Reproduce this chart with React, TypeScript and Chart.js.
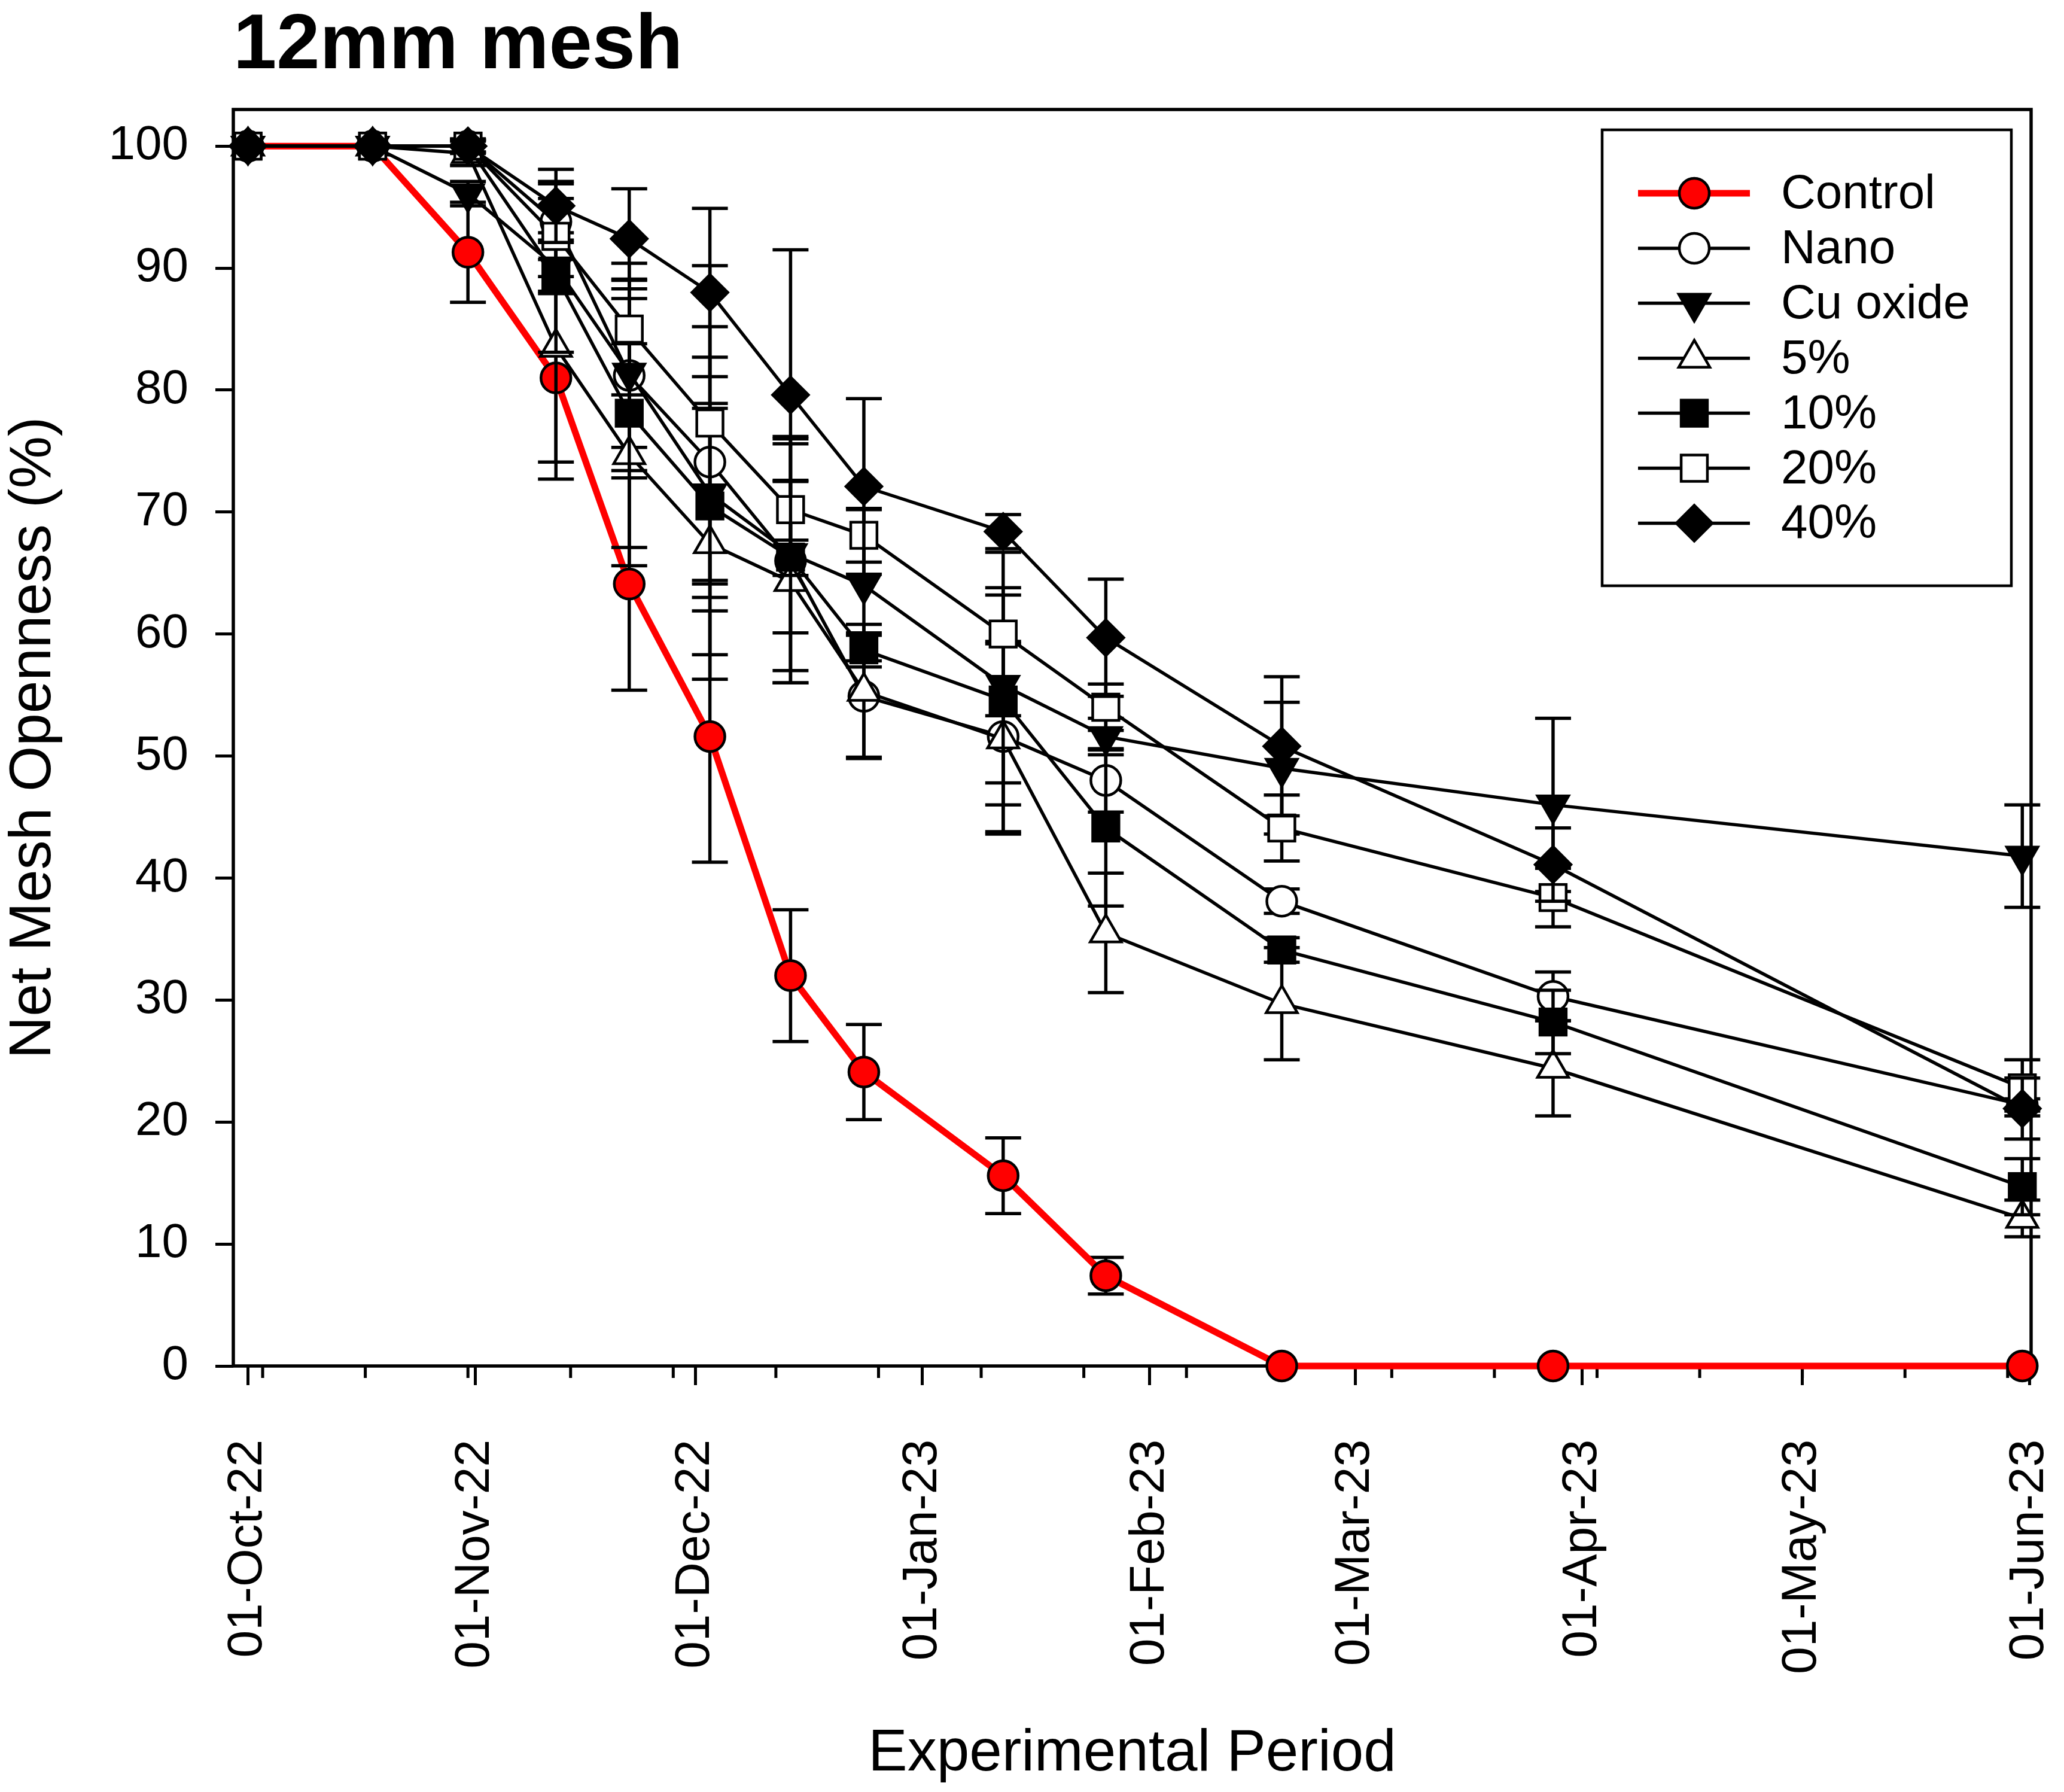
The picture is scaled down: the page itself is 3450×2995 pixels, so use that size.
import React, { useEffect, useRef } from 'react';
import { Chart, registerables } from 'chart.js';
import { drawPoint } from 'chart.js/helpers';

Chart.register(...registerables);

const FONT = '"Liberation Sans", Arial, Helvetica, sans-serif';

// sampling dates as days after 01-Oct-22
const sampleDays = [0, 17, 30, 42, 52, 63, 74, 84, 103, 117, 141, 178, 242];

// net mesh openness (%) per treatment
const controlValues = [100, 100, 91.3, 81.0, 64.1, 51.6, 32.0, 24.1, 15.6, 7.4, 0, 0, 0];
const nanoValues = [100, 100, 100, 93.8, 81.2, 74.1, 66.0, 54.9, 51.6, 48.0, 38.1, 30.3, 21.4];
const cuOxideValues = [100, 100, 96.1, 90.1, 81.4, 71.5, 66.6, 64.0, 55.8, 51.6, 49.0, 46.0, 41.8];
const pct5Values = [100, 100, 99.4, 83.5, 74.7, 67.4, 64.3, 55.3, 51.4, 35.5, 29.7, 24.4, 12.1];
const pct10Values = [100, 100, 100, 89.4, 78.1, 70.5, 66.3, 58.7, 54.6, 44.1, 34.1, 28.2, 14.7];
const pct20Values = [100, 100, 100, 92.6, 85.0, 77.3, 70.2, 68.1, 60.0, 54.0, 44.1, 38.4, 22.8];
const pct40Values = [100, 100, 100, 95.1, 92.4, 88.0, 79.6, 72.1, 68.4, 59.7, 50.8, 41.1, 21.1];

// error bar half-lengths
const controlErr = [0, 0, 4.1, 8.3, 8.7, 10.3, 5.4, 3.9, 3.1, 1.5, 0, 0, 0];
const nanoErr = [0, 0, 0.5, 3.1, 7.8, 11.1, 10.0, 5.0, 7.8, 2.6, 1.0, 2.0, 0.5];
const cuOxideErr = [0, 0, 1.0, 2.2, 6.1, 7.4, 9.6, 6.2, 8.0, 1.5, 5.4, 7.1, 4.2];
const pct5Err = [0, 0, 1.0, 9.4, 9.1, 11.1, 8.3, 5.5, 7.8, 4.9, 4.6, 3.9, 1.5];
const pct10Err = [0, 0, 0.6, 6.3, 11.0, 12.2, 6.2, 1.4, 8.6, 6.4, 1.0, 2.6, 2.3];
const pct20Err = [0, 0, 0.5, 4.5, 5.4, 12.9, 5.4, 2.2, 6.7, 1.9, 2.7, 2.4, 2.3];
const pct40Err = [0, 0, 0.5, 3.0, 4.1, 6.9, 11.9, 7.2, 1.4, 4.8, 5.7, 3.0, 2.5];

// x axis ticks
const monthTickDays = [0, 31, 61, 92, 123, 151, 182, 212, 243];
const monthTickLabels = [
  '01-Oct-22', '01-Nov-22', '01-Dec-22', '01-Jan-23', '01-Feb-23',
  '01-Mar-23', '01-Apr-23', '01-May-23', '01-Jun-23',
];
const minorTickDays = [2, 16, 30, 44, 58, 72, 86, 100, 114, 128, 142, 156, 170, 184, 198, 212, 226, 240];
const yTickValues = [0, 10, 20, 30, 40, 50, 60, 70, 80, 90, 100];

const series = [
  { label: 'Control', values: controlValues, err: controlErr, style: 'circle', rot: 0, radius: 25, fill: '#ff0000', line: '#ff0000', lineWidth: 11, order: 7 },
  { label: 'Nano', values: nanoValues, err: nanoErr, style: 'circle', rot: 0, radius: 25, fill: '#ffffff', line: '#000000', lineWidth: 5.5, order: 6 },
  { label: 'Cu oxide', values: cuOxideValues, err: cuOxideErr, style: 'triangle', rot: 180, radius: 30, fill: '#000000', line: '#000000', lineWidth: 5.5, order: 5 },
  { label: '5%', values: pct5Values, err: pct5Err, style: 'triangle', rot: 0, radius: 30, fill: '#ffffff', line: '#000000', lineWidth: 5.5, order: 4 },
  { label: '10%', values: pct10Values, err: pct10Err, style: 'rect', rot: 0, radius: 31, fill: '#000000', line: '#000000', lineWidth: 5.5, order: 3 },
  { label: '20%', values: pct20Values, err: pct20Err, style: 'rect', rot: 0, radius: 31, fill: '#ffffff', line: '#000000', lineWidth: 5.5, order: 2 },
  { label: '40%', values: pct40Values, err: pct40Err, style: 'rectRot', rot: 0, radius: 30, fill: '#000000', line: '#000000', lineWidth: 5.5, order: 1 },
];

const errorBars = {
  id: 'errorBars',
  beforeDatasetDraw(chart: any, args: any) {
    const s = series[args.index];
    const y = chart.scales.y;
    const ctx = chart.ctx;
    ctx.save();
    ctx.strokeStyle = '#000';
    ctx.lineWidth = 5.5;
    args.meta.data.forEach((pt: any, i: number) => {
      const e = s.err[i];
      if (!e) return;
      const top = y.getPixelForValue(s.values[i] + e);
      const bot = y.getPixelForValue(s.values[i] - e);
      ctx.beginPath();
      ctx.moveTo(pt.x, top);
      ctx.lineTo(pt.x, bot);
      ctx.moveTo(pt.x - 30, top);
      ctx.lineTo(pt.x + 30, top);
      ctx.moveTo(pt.x - 30, bot);
      ctx.lineTo(pt.x + 30, bot);
      ctx.stroke();
    });
    ctx.restore();
  },
};

const frame = {
  id: 'frame',
  beforeDatasetsDraw(chart: any) {
    const { ctx, chartArea: a, scales } = chart;
    ctx.save();
    ctx.strokeStyle = '#000';
    ctx.lineWidth = 5.5;
    ctx.strokeRect(a.left, a.top, a.right - a.left, a.bottom - a.top);
    // minor ticks on the date axis
    ctx.lineWidth = 5;
    ctx.beginPath();
    minorTickDays.forEach((d) => {
      const px = scales.x.getPixelForValue(d);
      ctx.moveTo(px, a.bottom);
      ctx.lineTo(px, a.bottom + 20);
    });
    ctx.stroke();
    ctx.restore();
  },
};

const titleAndLegend = {
  id: 'titleAndLegend',
  afterDraw(chart: any) {
    const ctx = chart.ctx;
    ctx.save();
    ctx.fillStyle = '#000';
    ctx.font = `bold 130px ${FONT}`;
    ctx.textBaseline = 'alphabetic';
    ctx.textAlign = 'left';
    ctx.fillText('12mm mesh', 390, 114);

    // legend box
    const bx = 2678, by = 217, bw = 684, bh = 762;
    ctx.fillStyle = '#fff';
    ctx.fillRect(bx, by, bw, bh);
    ctx.strokeStyle = '#000';
    ctx.lineWidth = 4.5;
    ctx.strokeRect(bx, by, bw, bh);

    ctx.font = `80px ${FONT}`;
    ctx.textBaseline = 'middle';
    series.forEach((s, i) => {
      const cy = 323 + i * 91.9;
      ctx.strokeStyle = s.line;
      ctx.lineWidth = s.lineWidth;
      ctx.beginPath();
      ctx.moveTo(2738, cy);
      ctx.lineTo(2925, cy);
      ctx.stroke();
      ctx.fillStyle = s.fill;
      ctx.strokeStyle = '#000';
      ctx.lineWidth = 4.5;
      drawPoint(ctx, { pointStyle: s.style, rotation: s.rot, radius: s.radius, borderWidth: 4.5 } as any, 2832, cy);
      ctx.fillStyle = '#000';
      ctx.fillText(s.label, 2977, cy + 3);
    });
    ctx.restore();
  },
};

const App: React.FC = () => {
  const chartRef = useRef<HTMLCanvasElement | null>(null);

  useEffect(() => {
    if (!chartRef.current) return;
    Chart.defaults.color = '#000';

    const chart = new Chart(chartRef.current, {
      type: 'line',
      data: {
        datasets: series.map((s) => ({
          label: s.label,
          data: sampleDays.map((d, i) => ({ x: d, y: s.values[i] })),
          borderColor: s.line,
          borderWidth: s.lineWidth,
          backgroundColor: s.fill,
          pointStyle: s.style as any,
          pointRotation: s.rot,
          pointRadius: s.radius,
          pointHoverRadius: s.radius,
          pointBackgroundColor: s.fill,
          pointBorderColor: '#000',
          pointBorderWidth: 4.5,
          tension: 0,
          fill: false,
          clip: false as any,
          order: s.order,
        })),
      },
      options: {
        animation: false,
        responsive: true,
        maintainAspectRatio: false,
        events: [],
        layout: { padding: { left: 0, top: 183, right: 55, bottom: 0 } },
        plugins: {
          legend: { display: false },
          title: { display: false },
          tooltip: { enabled: false },
        },
        scales: {
          x: {
            type: 'linear',
            min: -2,
            max: 243.2,
            offset: false,
            afterBuildTicks: (scale: any) => {
              scale.ticks = monthTickDays.map((v) => ({ value: v }));
            },
            afterFit: (scale: any) => {
              scale.height = 712;
              scale.paddingLeft = 0;
              scale.paddingRight = 0;
            },
            border: { display: false },
            grid: {
              drawOnChartArea: false,
              drawTicks: true,
              tickLength: 32,
              tickWidth: 5,
              tickColor: '#000',
            },
            ticks: {
              autoSkip: false,
              minRotation: 90,
              maxRotation: 90,
              padding: 91,
              color: '#000',
              font: { family: FONT, size: 82 },
              callback: (value: any) => {
                const i = monthTickDays.indexOf(Number(value));
                return i >= 0 ? monthTickLabels[i] : '';
              },
            },
            title: {
              display: true,
              text: 'Experimental Period',
              color: '#000',
              font: { family: FONT, size: 98, lineHeight: 1 },
              padding: { top: 0, bottom: 14 },
            },
          },
          y: {
            type: 'linear',
            min: 0,
            max: 103,
            afterBuildTicks: (scale: any) => {
              scale.ticks = yTickValues.map((v) => ({ value: v }));
            },
            afterFit: (scale: any) => {
              scale.width = 390;
              scale.paddingTop = 0;
              scale.paddingBottom = 0;
            },
            border: { display: false },
            grid: {
              drawOnChartArea: false,
              drawTicks: true,
              tickLength: 30,
              tickWidth: 5,
              tickColor: '#000',
            },
            ticks: {
              padding: 45,
              color: '#000',
              font: { family: FONT, size: 80 },
            },
            title: {
              display: true,
              text: 'Net Mesh Openness (%)',
              color: '#000',
              font: { family: FONT, size: 98, lineHeight: 1 },
              padding: { top: 8, bottom: 0 },
            },
          },
        },
      },
      plugins: [frame, errorBars, titleAndLegend],
    });

    return () => chart.destroy();
  }, []);

  return (
    <div style={{ position: 'fixed', left: 0, top: 0, width: '3450px', height: '2995px', background: '#fff' }}>
      <canvas ref={chartRef} />
    </div>
  );
};

export default App;
